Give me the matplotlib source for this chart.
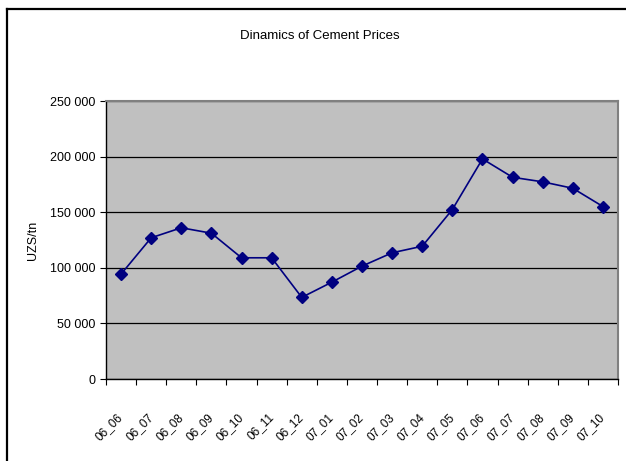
import numpy as np
import matplotlib.pyplot as plt
from matplotlib.ticker import FuncFormatter, FixedLocator
from matplotlib.lines import Line2D
from matplotlib.transforms import ScaledTranslation

plt.rcParams['font.family'] = ['Liberation Sans Narrow', 'Liberation Sans', 'DejaVu Sans']

months = ["06_06", "06_07", "06_08", "06_09", "06_10", "06_11", "06_12",
          "07_01", "07_02", "07_03", "07_04", "07_05", "07_06", "07_07",
          "07_08", "07_09", "07_10"]
prices = [94300, 127000, 136000, 131100, 109000, 109000, 73400,
          87100, 101500, 113500, 119400, 152400, 197900, 181400,
          177300, 171500, 155100]
yticks = [0, 50000, 100000, 150000, 200000, 250000]

fig = plt.figure(figsize=(6.26, 4.61), dpi=100)
ax = fig.add_axes([106/626, 1-379/461, (618-106)/626, (379-101)/461])

# outer chart frame (runs off the right/bottom edges)
fig.add_artist(Line2D([7/626, 7/626], [1-9.5/461, -0.1], transform=fig.transFigure, color='black', lw=1.6))
fig.add_artist(Line2D([7/626, 1.1], [1-9.5/461, 1-9.5/461], transform=fig.transFigure, color='black', lw=1.6))

x = np.arange(len(months))
ax.set_facecolor('#c0c0c0')
ax.plot(x, prices, color='#000080', lw=1.2, marker='D', markersize=6.5, zorder=3)

ax.set_xlim(-0.5, len(months) - 0.5)
ax.set_ylim(0, 250000)
ax.set_yticks(yticks)
ax.yaxis.set_major_formatter(FuncFormatter(lambda v, p: f"{int(v):,}".replace(",", " ")))
ax.grid(axis='y', color='black', lw=0.9)
ax.set_axisbelow(True)

ax.xaxis.set_major_locator(FixedLocator(np.arange(-0.5, len(months), 1.0)))
ax.xaxis.set_minor_locator(FixedLocator(x))
ax.set_xticklabels([], minor=False)
labels = ax.set_xticklabels(months, minor=True, rotation=45, ha='right', va='center',
                            rotation_mode='anchor', fontsize=8.5)
shift = ScaledTranslation(-12/100, 0, fig.dpi_scale_trans)
for lab in labels:
    lab.set_transform(lab.get_transform() + shift)
ax.tick_params(axis='x', which='major', length=4, direction='out', color='black')
ax.tick_params(axis='x', which='minor', length=0, pad=26)
ax.tick_params(axis='y', length=4, direction='out', labelsize=9, color='black')

for s in ['top', 'right']:
    ax.spines[s].set_color('#808080')
    ax.spines[s].set_linewidth(1.5)
for s in ['left', 'bottom']:
    ax.spines[s].set_color('black')
    ax.spines[s].set_linewidth(1.0)

ax.set_ylabel("UZS/tn", fontsize=9, labelpad=8)
fig.text(320/626, 1-36/461, "Dinamics of Cement Prices", ha='center', va='center', fontsize=9.5)

fig.savefig("out.png", dpi=100)
